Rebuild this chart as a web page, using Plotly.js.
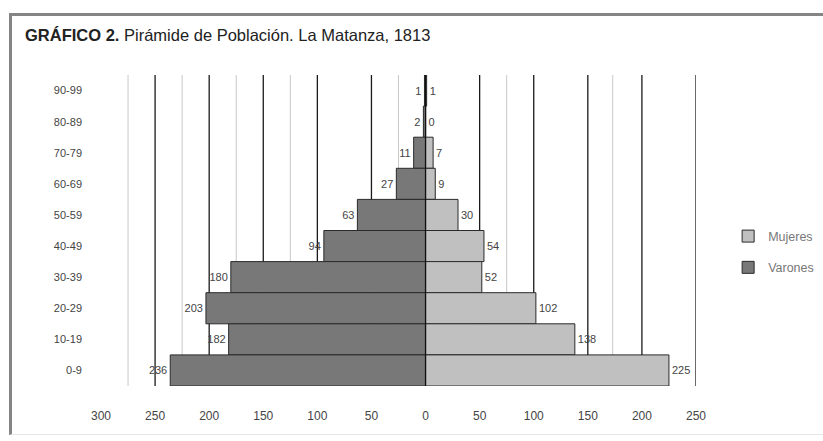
<!DOCTYPE html>
<html>
<head>
<meta charset="utf-8">
<script src="https://cdn.plot.ly/plotly-3.0.1.min.js"></script>
<style>
  html, body { margin: 0; padding: 0; background: #fff; }
  #wrap { position: relative; width: 823px; height: 441px; overflow: hidden; }
  #chart { position: absolute; left: 0; top: 0; width: 823px; height: 441px; }
  #frame { position: absolute; left: 9px; top: 13px; width: 830px; height: 418px;
           border-top: 3px solid #858585; border-left: 3px solid #858585;
           border-bottom: 1px solid #e6e6e6; pointer-events: none; }
</style>
</head>
<body>
<div id="wrap">
  <div id="chart"></div>
  <div id="frame"></div>
</div>
<script>
// Data
const ageGroups = ["90-99", "80-89", "70-79", "60-69", "50-59", "40-49", "30-39", "20-29", "10-19", "0-9"];
const varones = [1, 2, 11, 27, 63, 94, 180, 203, 182, 236];
const mujeres = [1, 0, 7, 9, 30, 54, 52, 102, 138, 225];
const xTickVals = [-300, -250, -200, -150, -100, -50, 0, 50, 100, 150, 200, 250];
const xTickText = ["300", "250", "200", "150", "100", "50", "0", "50", "100", "150", "200", "250"];
const majorGrid = [-250, -200, -150, -100, -50, 50, 100, 150, 200, 250];
const minorGrid = [-275, -225, -175, -125, -25, 75, 173];

const shapes = [];
minorGrid.forEach(v => shapes.push({type: 'line', xref: 'x', yref: 'paper', x0: v, x1: v, y0: 0, y1: 1,
  line: {color: '#c8c8c8', width: 1}, layer: 'below'}));
majorGrid.forEach(v => shapes.push({type: 'line', xref: 'x', yref: 'paper', x0: v, x1: v, y0: 0, y1: 1,
  line: {color: '#1a1a1a', width: 1.3}, layer: 'below'}));
shapes.push({type: 'line', xref: 'x', yref: 'paper', x0: 0, x1: 0, y0: 0, y1: 1,
  line: {color: '#111111', width: 1.3}, layer: 'above'});

const FAM = 'Liberation Sans, Arial, sans-serif';
const labelFont = {family: FAM, size: 11, color: '#444444'};

const traces = [
  {
    type: 'bar', orientation: 'h', name: 'Varones', legendgroup: 'v', legendrank: 2,
    y: ageGroups, x: varones.map(v => -v),
    text: varones.map(String), textposition: 'outside', textfont: labelFont,
    cliponaxis: false,
    marker: {color: '#787878', line: {color: '#2a2a2a', width: 1}},
    hoverinfo: 'skip'
  },
  {
    type: 'bar', orientation: 'h', name: 'Mujeres', legendgroup: 'm', legendrank: 1,
    y: ageGroups, x: mujeres,
    text: mujeres.map(String), textposition: 'outside', textfont: labelFont,
    cliponaxis: false,
    marker: {color: '#c0c0c0', line: {color: '#2a2a2a', width: 1}},
    hoverinfo: 'skip'
  }
];

const layout = {
  width: 823, height: 441,
  margin: {l: 101, r: 127, t: 75, b: 55, autoexpand: false},
  paper_bgcolor: '#ffffff', plot_bgcolor: '#ffffff',
  barmode: 'overlay', bargap: 0,
  font: {family: FAM, size: 11, color: '#444444'},
  title: {
    text: '<b>GRÁFICO 2.</b> Pirámide de Población. La Matanza, 1813',
    xref: 'container', yref: 'container', x: 25 / 823, xanchor: 'left',
    y: 1 - 35 / 441, yanchor: 'middle',
    font: {family: FAM, size: 16.5, color: '#222222'}
  },
  xaxis: {
    range: [-300, 250], tickvals: xTickVals, ticktext: xTickText,
    showgrid: false, zeroline: false, showline: false, ticks: '',
    ticklabelstandoff: 21,
    tickfont: {family: FAM, size: 12, color: '#444444'},
    fixedrange: true
  },
  yaxis: {
    type: 'category', categoryorder: 'array', categoryarray: ageGroups.slice().reverse(),
    showgrid: false, zeroline: false, showline: false, ticks: '',
    ticklabelstandoff: 18,
    tickfont: {family: FAM, size: 11, color: '#444444'},
    fixedrange: true
  },
  legend: {
    x: 1.054, xanchor: 'left', y: 0.529, yanchor: 'top',
    traceorder: 'grouped', tracegroupgap: 12,
    font: {family: FAM, size: 12.5, color: '#777777'},
    itemwidth: 30, bgcolor: 'rgba(0,0,0,0)'
  },
  shapes: shapes,
  showlegend: true
};

Plotly.newPlot('chart', traces, layout, {displayModeBar: false, staticPlot: true});
</script>
</body>
</html>
